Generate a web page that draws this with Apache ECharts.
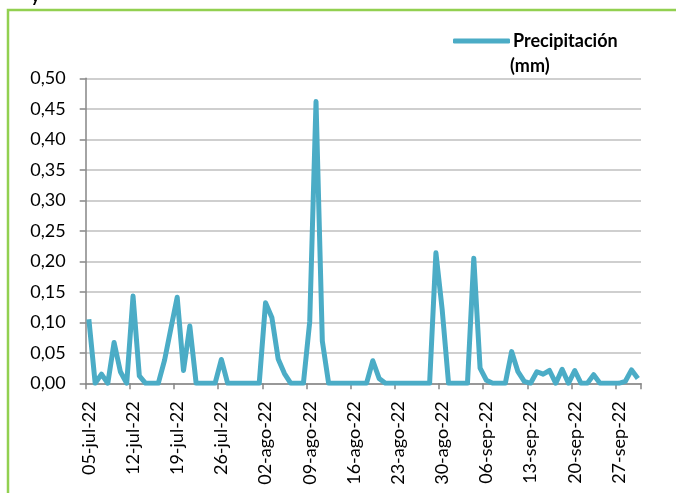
<!DOCTYPE html>
<html>
<head>
<meta charset="utf-8">
<script src="https://cdn.jsdelivr.net/npm/echarts@6/dist/echarts.min.js"></script>
<style>
html,body{margin:0;padding:0;background:#fff;}
#chart{width:676px;height:493px;}
</style>
</head>
<body>
<div id="chart"></div>
<script>
const categories = [
 '05-jul-22','06-jul-22','07-jul-22','08-jul-22','09-jul-22','10-jul-22','11-jul-22','12-jul-22','13-jul-22','14-jul-22',
 '15-jul-22','16-jul-22','17-jul-22','18-jul-22','19-jul-22','20-jul-22','21-jul-22','22-jul-22','23-jul-22','24-jul-22',
 '25-jul-22','26-jul-22','27-jul-22','28-jul-22','29-jul-22','30-jul-22','31-jul-22',
 '01-ago-22','02-ago-22','03-ago-22','04-ago-22','05-ago-22','06-ago-22','07-ago-22','08-ago-22','09-ago-22','10-ago-22',
 '11-ago-22','12-ago-22','13-ago-22','14-ago-22','15-ago-22','16-ago-22','17-ago-22','18-ago-22','19-ago-22','20-ago-22',
 '21-ago-22','22-ago-22','23-ago-22','24-ago-22','25-ago-22','26-ago-22','27-ago-22','28-ago-22','29-ago-22','30-ago-22','31-ago-22',
 '01-sep-22','02-sep-22','03-sep-22','04-sep-22','05-sep-22','06-sep-22','07-sep-22','08-sep-22','09-sep-22','10-sep-22',
 '11-sep-22','12-sep-22','13-sep-22','14-sep-22','15-sep-22','16-sep-22','17-sep-22','18-sep-22','19-sep-22','20-sep-22',
 '21-sep-22','22-sep-22','23-sep-22','24-sep-22','25-sep-22','26-sep-22','27-sep-22','28-sep-22','29-sep-22','30-sep-22'
];
const precipitacion = [
 0.105,0,0.015,0,0.067,0.019,0,0.143,0.012,0,
 0,0,0.038,0.09,0.141,0.021,0.094,0,0,0,
 0,0.039,0,0,0,0,0,
 0,0.132,0.108,0.04,0.016,0,0,0,0.101,0.462,
 0.069,0,0,0,0,0,0,0,0.037,0.008,
 0,0,0,0,0,0,0,0,0.214,0.12,0,
 0,0,0,0.205,0.025,0.005,0,0,0,0.052,
 0.019,0.003,0,0.019,0.015,0.021,0,0.023,0,0.021,
 0,0,0.014,0,0,0,0,0.003,0.022,0.008
];
const seriesName = 'Precipitación';
const seriesUnit = '(mm)';
const yTicks = { min: 0, max: 0.5, interval: 0.05 };

const chart = echarts.init(document.getElementById('chart'), null, {renderer: 'canvas'});
const font = 'Lato, "Open Sans", sans-serif';
chart.setOption({
  animation: false,
  backgroundColor: '#ffffff',
  textStyle: { fontFamily: font },
  graphic: [
    { type: 'rect', shape: { x: 8, y: 10, width: 700, height: 500 },
      style: { fill: 'none', stroke: '#92D050', lineWidth: 2.5 }, silent: true },
    { type: 'text', left: 31, top: -12,
      style: { text: 'y', font: 'bold 17px ' + font, fill: '#000' } },
    { type: 'text', left: 510, top: 57,
      style: { text: seriesUnit, font: 'bold 18px ' + font, fill: '#000' } }
  ],
  legend: {
    top: 27, left: 448,
    icon: 'roundRect',
    itemWidth: 57, itemHeight: 5,
    itemGap: 4,
    data: [seriesName],
    textStyle: { fontFamily: font, fontWeight: 'bold', fontSize: 18, color: '#000', padding: [0,0,0,-2] }
  },
  grid: { left: 85.7, right: 35, top: 78.3, bottom: 109.7, containLabel: false },
  xAxis: {
    type: 'category',
    data: categories,
    boundaryGap: true,
    axisLine: { lineStyle: { color: '#868686', width: 1.5 } },
    axisTick: { show: true, length: 6, interval: function(i){ return i % 7 === 0; }, lineStyle: { color: '#868686', width: 1.5 } },
    axisLabel: {
      interval: function(i){ return i % 7 === 0; },
      rotate: 90, margin: 18,
      fontFamily: font, fontSize: 18, color: '#000'
    },
    splitLine: { show: false }
  },
  yAxis: {
    type: 'value',
    min: yTicks.min, max: yTicks.max, interval: yTicks.interval,
    axisLine: { show: true, lineStyle: { color: '#868686', width: 1.5 } },
    axisTick: { show: true, length: 6, lineStyle: { color: '#868686', width: 1.5 } },
    axisLabel: {
      margin: 20, fontFamily: font, fontSize: 18, color: '#000',
      formatter: function(v){ return v.toFixed(2).replace('.', ','); }
    },
    splitLine: { show: true, lineStyle: { color: '#BFBFBF', width: 1.5 } }
  },
  series: [{
    name: seriesName,
    type: 'line',
    data: precipitacion,
    showSymbol: false,
    symbol: 'none',
    lineStyle: { color: '#4BACC6', width: 5, join: 'round' },
    itemStyle: { color: '#4BACC6' }
  }]
});
</script>
</body>
</html>
